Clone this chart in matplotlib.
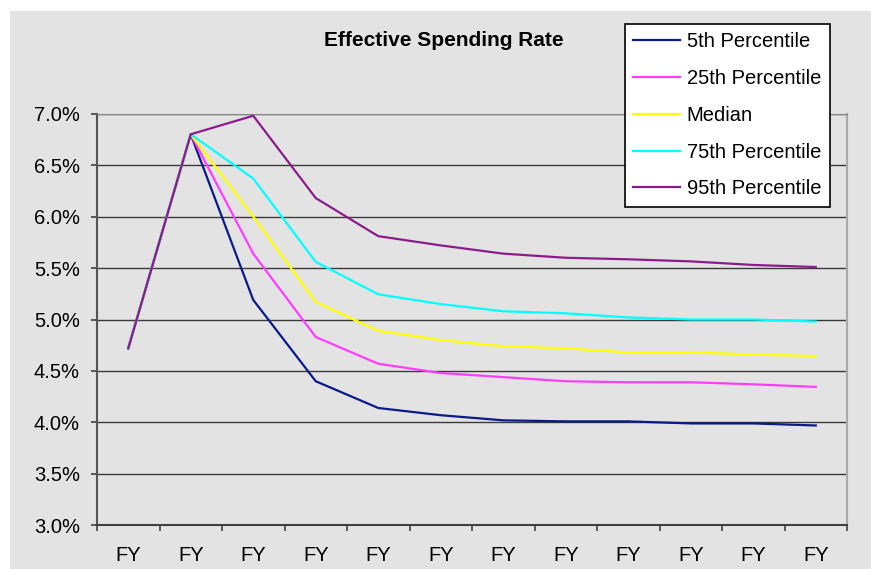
import matplotlib
matplotlib.use("Agg")
import matplotlib.pyplot as plt
from matplotlib.patches import Rectangle
from matplotlib.ticker import FuncFormatter, MultipleLocator

# values (percent)
years = ["FY"] * 12
p5 = [4.72, 6.80, 5.19, 4.40, 4.14, 4.07, 4.02, 4.01, 4.01, 3.99, 3.99, 3.97]
p25 = [4.72, 6.80, 5.64, 4.83, 4.57, 4.48, 4.44, 4.40, 4.39, 4.39, 4.37, 4.345]
median = [4.72, 6.80, 6.00, 5.17, 4.89, 4.80, 4.74, 4.72, 4.68, 4.68, 4.66, 4.645]
p75 = [4.72, 6.80, 6.37, 5.56, 5.245, 5.15, 5.08, 5.06, 5.02, 5.00, 5.00, 4.98]
p95 = [4.72, 6.80, 6.98, 6.18, 5.81, 5.72, 5.64, 5.60, 5.585, 5.565, 5.53, 5.51]

series = [
    ("5th Percentile", p5, "#0a1a8a"),
    ("25th Percentile", p25, "#ff3cff"),
    ("Median", median, "#ffff00"),
    ("75th Percentile", p75, "#00ffff"),
    ("95th Percentile", p95, "#8c1c8c"),
]

plt.rcParams["font.family"] = ["Liberation Sans", "DejaVu Sans"]
BG = "#e3e3e3"
W, H = 871, 569

fig = plt.figure(figsize=(W / 100, H / 100), dpi=100, facecolor="white")
fig.patches.append(Rectangle((10 / W, 0), 1, 1 - 11 / H, transform=fig.transFigure,
                             facecolor=BG, edgecolor="none", zorder=-10))

ax = fig.add_axes([97 / W, 1 - 525.3 / H, 750 / W, 411.6 / H])
ax.set_facecolor(BG)

x = list(range(len(years)))
for name, vals, c in series:
    ax.plot(x, vals, color=c, lw=1.6, label=name, zorder=3)

ax.set_xlim(-0.5, len(years) - 0.5)
ax.set_ylim(3.0, 7.0)
ax.yaxis.set_major_locator(MultipleLocator(0.5))
ax.yaxis.set_major_formatter(FuncFormatter(lambda v, _: f"{v:.1f}%"))
ax.grid(axis="y", color="#3a3a3a", lw=1.0)
ax.set_axisbelow(True)

ax.set_xticks(x)
ax.set_xticklabels(years)
ax.set_xticks([i - 0.5 for i in range(len(years) + 1)], minor=True)
ax.tick_params(axis="x", which="major", length=0, pad=15, labelsize=14.5)
ax.tick_params(axis="x", which="minor", length=4, width=1.2, color="#404040")
ax.tick_params(axis="y", length=4.3, width=1.2, color="#404040", pad=8, labelsize=14.5)

ax.spines["left"].set_color("#555555")
ax.spines["left"].set_linewidth(1.5)
ax.spines["bottom"].set_color("#404040")
ax.spines["bottom"].set_linewidth(1.5)
ax.spines["right"].set_color("#aaaaaa")
ax.spines["right"].set_linewidth(1.5)
ax.spines["top"].set_color("#888888")

fig.text(444 / W, 1 - 41 / H, "Effective Spending Rate", ha="center", va="center",
         fontsize=15, fontweight="bold")

leg = fig.legend(loc="upper left", bbox_to_anchor=(625 / W, 1 - 24 / H),
                 borderaxespad=0, frameon=True, fancybox=False, fontsize=14.5,
                 handlelength=2.3, handletextpad=0.35, labelspacing=0.88,
                 borderpad=0.42)
leg.get_frame().set_edgecolor("black")
leg.get_frame().set_facecolor("white")
leg.get_frame().set_linewidth(1.2)
leg.get_frame().set_alpha(1)

fig.savefig("out.png", dpi=100, facecolor="white")
